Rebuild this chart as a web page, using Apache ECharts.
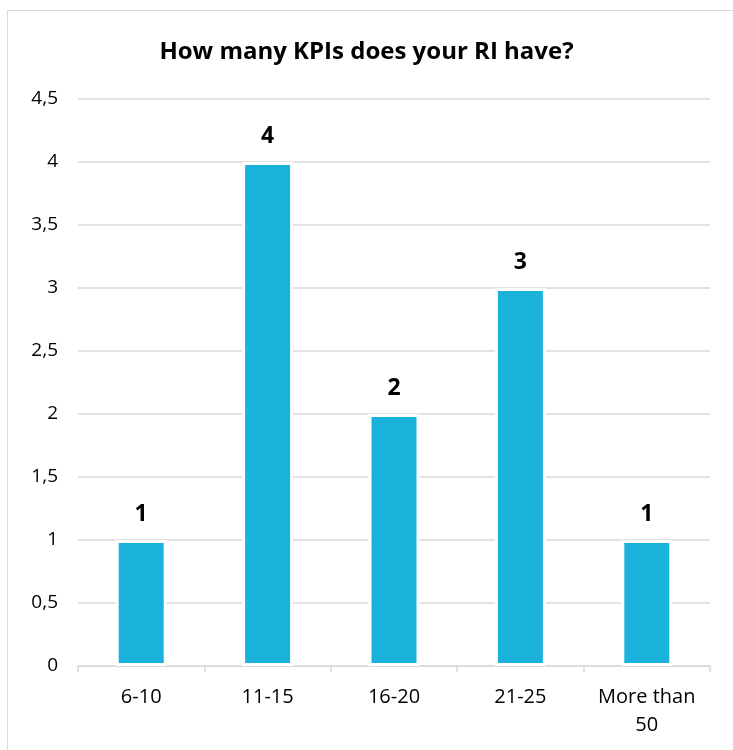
<!DOCTYPE html>
<html>
<head>
<meta charset="utf-8">
<script src="https://cdn.jsdelivr.net/npm/echarts@6/dist/echarts.min.js"></script>
<style>
html,body{margin:0;padding:0;background:#fff;}
#c{width:733px;height:750px;}
</style>
</head>
<body>
<div id="c"></div>
<script>
const titleText = 'How many KPIs does your RI have?';
const categories = ['6-10', '11-15', '16-20', '21-25', 'More than\n50'];
const values = [1, 4, 2, 3, 1];
const yMin = 0, yMax = 4.5, yStep = 0.5;

const font = '"Open Sans", sans-serif';
const chart = echarts.init(document.getElementById('c'));
chart.setOption({
  animation: false,
  backgroundColor: '#fff',
  graphic: [{
    type: 'rect', z: -1,
    shape: {x: 7.5, y: 10.5, width: 740, height: 760},
    style: {fill: 'none', stroke: '#d9d9d9', lineWidth: 1}
  }],
  title: {
    text: titleText, left: 'center', top: 35,
    textStyle: {fontFamily: font, fontWeight: 'bold', fontSize: 24, color: '#000'}
  },
  grid: {left: 78, right: 23, top: 99, bottom: 84, containLabel: false},
  xAxis: {
    type: 'category', data: categories,
    axisLine: {lineStyle: {color: '#d9d9d9', width: 1.5}},
    axisTick: {show: true, length: 6, lineStyle: {color: '#d9d9d9', width: 1.5}},
    axisLabel: {interval: 0, hideOverlap: false, fontFamily: font, fontSize: 20, color: '#000', margin: 17, lineHeight: 28}
  },
  yAxis: {
    type: 'value', min: yMin, max: yMax, interval: yStep,
    axisLine: {show: false}, axisTick: {show: false},
    splitLine: {lineStyle: {color: '#d9d9d9', width: 1.5}},
    axisLabel: {
      fontFamily: font, fontSize: 19, color: '#000', margin: 20,
      formatter: v => String(v).replace('.', ',')
    }
  },
  series: [{
    type: 'bar', data: values, barWidth: 51,
    itemStyle: {color: '#1AB2DA', borderColor: '#fff', borderWidth: 3},
    label: {show: true, position: 'top', distance: 14, fontFamily: font, fontWeight: 'bold', fontSize: 23, color: '#000'}
  }]
});
</script>
</body>
</html>
